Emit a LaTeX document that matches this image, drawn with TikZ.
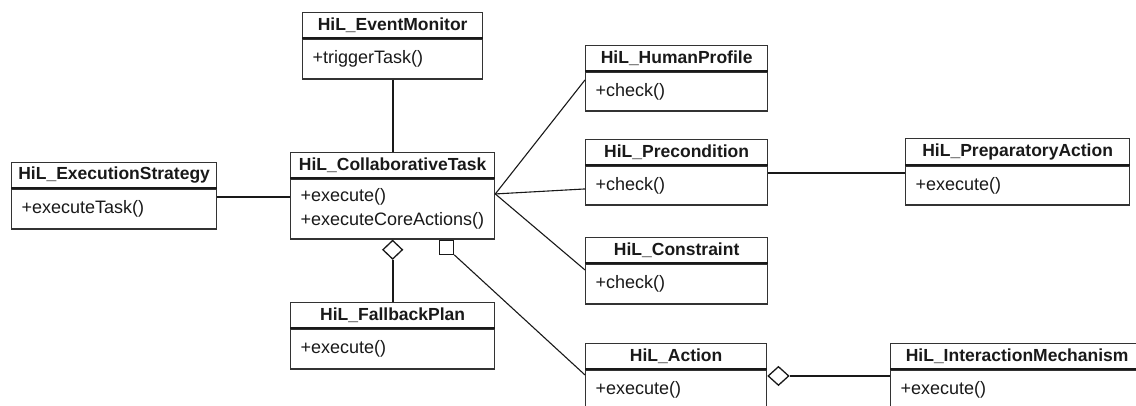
\documentclass[tikz,border=0pt]{standalone}
\usepackage{fontspec}
\setmainfont{Liberation Sans}
\usetikzlibrary{shapes.geometric,calc}
\tikzset{
  hdr/.style={draw=black!80, line width=1.3pt, minimum height=25pt, inner sep=0pt,
    font=\fontsize{17.5}{24}\selectfont\bfseries, text=black!90, anchor=north west},
  bodybox/.style={draw=black!80, line width=1.3pt, inner xsep=10pt, inner ysep=0pt,
    align=left, font=\fontsize{18}{23.5}\selectfont, text=black!90, anchor=north west},
  divider/.style={line width=2pt, black!90},
  assoc/.style={line width=1.8pt, black!90},
  thinassoc/.style={line width=1.1pt, black!90},
  aggr/.style={diamond, draw=black!90, line width=1.3pt, fill=white, inner sep=0pt,
    minimum width=20pt, minimum height=19pt},
  sqbox/.style={rectangle, draw=black!90, line width=1.3pt, fill=white, inner sep=0pt,
    minimum width=14pt, minimum height=14pt}
}
% name, left, top, width, text width, title, header height, body height, body
\newcommand\umlclass[9]{%
  \node[hdr, minimum width=#4pt, minimum height=#7pt] (#1) at (#2,#3) {#6};
  \node[bodybox, text width=#5pt, minimum width=#4pt, minimum height=#8pt] (#1b) at (#1.south west) {#9};
  \draw[divider] (#1.south west) -- (#1.south east);
}
\begin{document}
\begin{tikzpicture}[x=1pt,y=-1pt]
\useasboundingbox (0,0) rectangle (1136,406);
\clip (0,0) rectangle (1136,406);

\umlclass{em}{302}{12}{180}{160}{HiL\_EventMonitor}{25}{40}{+triggerTask()}
\umlclass{ct}{290}{152}{204}{184}{HiL\_CollaborativeTask}{25}{60}{+execute()\\+executeCoreActions()}
\umlclass{es}{11}{162}{205}{185}{HiL\_ExecutionStrategy}{25}{40}{+executeTask()}
\umlclass{fp}{290}{302}{204}{184}{HiL\_FallbackPlan}{25}{40}{+execute()}
\umlclass{hp}{585}{45}{182}{162}{HiL\_HumanProfile}{25}{39}{+check()}
\umlclass{pc}{585}{139}{182}{162}{HiL\_Precondition}{25}{39}{+check()}
\umlclass{co}{585}{237}{182}{162}{HiL\_Constraint}{25}{40}{+check()}
\umlclass{pa}{905}{138}{224}{204}{HiL\_PreparatoryAction}{26}{39}{+execute()}
\umlclass{ac}{585}{343}{181}{161}{HiL\_Action}{25}{40}{+execute()}
\umlclass{im}{890}{343}{253}{233}{HiL\_InteractionMechanism}{25}{40}{+execute()}

% associations
\draw[assoc] (emb.south) -- (ct.north);
\draw[assoc] ([yshift=12pt]esb.east) -- ([yshift=12pt]ctb.west);
\draw[thinassoc] ([yshift=15pt]ctb.east) -- ([yshift=11.5pt]hpb.west);
\draw[thinassoc] ([yshift=15pt]ctb.east) -- ([yshift=-3.5pt]pcb.west);
\draw[thinassoc] ([yshift=15pt]ctb.east) -- ([yshift=14pt]cob.west);
\draw[assoc] ([yshift=12.5pt]pcb.east) -- ([yshift=12.5pt]pab.west);

% aggregation to fallback plan
\node[aggr, anchor=north] (dm1) at (ctb.south) {};
\draw[assoc] (dm1.south) -- (fp.north);

% square end to action
\node[sqbox, anchor=north] (sq1) at ([xshift=54pt]ctb.south) {};
\draw[thinassoc] (sq1.south east) -- ([yshift=15pt]acb.west);

% aggregation action - interaction mechanism
\node[aggr, anchor=west, minimum width=21pt] (dm2) at ([yshift=14pt]acb.east) {};
\draw[assoc] (dm2.east) -- ([yshift=14pt]imb.west);
\end{tikzpicture}
\end{document}
